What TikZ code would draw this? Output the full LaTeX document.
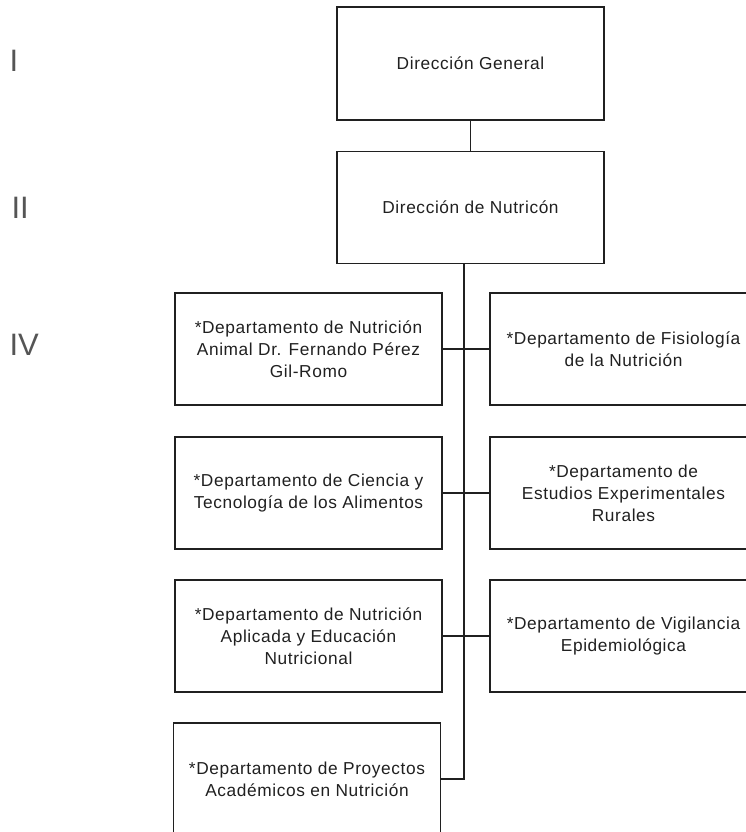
\documentclass[tikz,border=0pt]{standalone}
\usepackage{fontspec}
\setmainfont{Liberation Sans}[LetterSpace=3.5]
\newfontfamily\levelfont{Liberation Sans}
\usetikzlibrary{positioning}
\definecolor{inkdark}{RGB}{32,32,32}
\definecolor{levelgray}{RGB}{85,85,85}

\begin{document}
\begin{tikzpicture}[x=1pt, y=-1pt,
  unitbox/.style={draw=inkdark, line width=1.4pt, minimum width=267pt, minimum height=112pt,
    inner sep=0pt, align=center, text=inkdark, font=\fontsize{17.3}{22}\selectfont},
  levelmark/.style={anchor=west, text=levelgray, font=\levelfont\fontsize{31}{31}\selectfont},
  link/.style={draw=inkdark, line width=1.4pt}]
\useasboundingbox (0,0) rectangle (746,832);

% Levels
\node[levelmark] (lvI) at (6, 61) {I};
\node[levelmark] (lvII) at (8, 208) {II};
\node[levelmark] (lvIV) at (6, 345) {IV};

% Direction
\node[unitbox, minimum height=113pt] (dirgen) at (470.5, 63.5) {Dirección General};
\node[unitbox] (dirnut) at (470.5, 207.5) {Dirección de Nutricón};

% Departments, left column
\node[unitbox] (depAnimal) at (308.5, 349) {*Departamento de Nutrición\\Animal Dr. Fernando Pérez\\Gil-Romo};
\node[unitbox] (depCiencia) at (308.5, 493) {*Departamento de Ciencia y\\Tecnología de los Alimentos};
\node[unitbox] (depAplicada) at (308.5, 636) {*Departamento de Nutrición\\Aplicada y Educación\\Nutricional};
\node[unitbox] (depProyectos) at (307, 779) {*Departamento de Proyectos\\Académicos en Nutrición};

% Departments, right column
\node[unitbox] (depFisio) at (623.5, 349) {*Departamento de Fisiología\\de la Nutrición};
\node[unitbox] (depRurales) at (623.5, 493) {*Departamento de\\Estudios Experimentales\\Rurales};
\node[unitbox] (depVigil) at (623.5, 636) {*Departamento de Vigilancia\\Epidemiológica};

% Lines
\coordinate (trunk) at (464, 263);
\draw[link] (dirgen) -- (dirnut);
\draw[link] (trunk) |- (depProyectos.east);
\draw[link] (depAnimal) -- (depFisio);
\draw[link] (depCiencia) -- (depRurales);
\draw[link] (depAplicada) -- (depVigil);
\end{tikzpicture}
\end{document}
